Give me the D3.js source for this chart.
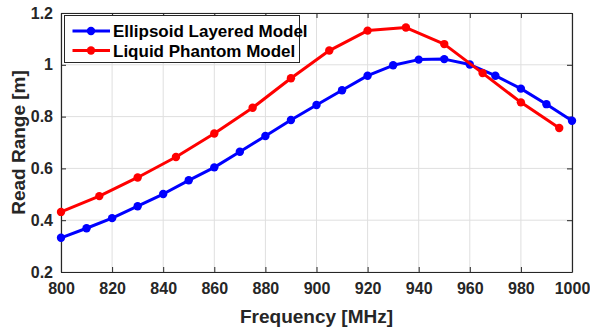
<!DOCTYPE html>
<html><head><meta charset="utf-8">
<script src="https://cdn.jsdelivr.net/npm/d3@7"></script>
<style>body{margin:0;background:#fff}svg{display:block}text{font-family:Arial,"Liberation Sans",sans-serif}</style>
</head><body><svg id="c" width="590" height="327"></svg>
<script>
const blueFreq = [800,810,820,830,840,850,860,870,880,890,900,910,920,930,940,950,960,970,980,990,1000];
const blueVals = [0.332,0.369,0.408,0.454,0.501,0.554,0.604,0.664,0.725,0.787,0.845,0.902,0.958,0.998,1.02,1.022,1.001,0.958,0.908,0.848,0.784];
const redFreq = [800,815,830,845,860,875,890,905,920,935,950,965,980,995];
const redVals = [0.432,0.493,0.565,0.644,0.735,0.834,0.948,1.055,1.132,1.144,1.08,0.968,0.855,0.756];
const xTicks = [800,820,840,860,880,900,920,940,960,980,1000];
const yTicks = [0.2,0.4,0.6,0.8,1,1.2];
const seriesNames = ["Ellipsoid Layered Model","Liquid Phantom Model"];
const seriesColors = ["#0000ff","#ff0000"];

const svg = d3.select("#c");
const L=61,R=572,T=13,B=272;
const x = d3.scaleLinear().domain([800,1000]).range([L,R]);
const y = d3.scaleLinear().domain([0.2,1.2]).range([B,T]);
const axc="#262626";

// grid
const g = svg.append("g");
g.selectAll(".gx").data(xTicks).enter().append("line")
 .attr("x1",d=>x(d)).attr("x2",d=>x(d)).attr("y1",T).attr("y2",B)
 .attr("stroke","#dfdfdf").attr("stroke-width",1);
g.selectAll(".gy").data(yTicks).enter().append("line")
 .attr("y1",d=>y(d)).attr("y2",d=>y(d)).attr("x1",L).attr("x2",R)
 .attr("stroke","#dfdfdf").attr("stroke-width",1);

// axes
const fmtY = d=> d===1?"1":d3.format(".1f")(d);
const xa = svg.append("g").attr("transform",`translate(0,${B})`)
 .call(d3.axisBottom(x).tickValues(xTicks).tickSizeInner(-5).tickSizeOuter(0).tickPadding(11).tickFormat(d3.format("d")));
const ya = svg.append("g").attr("transform",`translate(${L},0)`)
 .call(d3.axisLeft(y).tickValues(yTicks).tickSizeInner(-5).tickSizeOuter(0).tickPadding(8).tickFormat(fmtY));
const xt = svg.append("g").attr("transform",`translate(0,${T})`)
 .call(d3.axisTop(x).tickValues(xTicks).tickSizeInner(-5).tickSizeOuter(0).tickFormat(""));
const yr = svg.append("g").attr("transform",`translate(${R},0)`)
 .call(d3.axisRight(y).tickValues(yTicks).tickSizeInner(-5).tickSizeOuter(0).tickFormat(""));
[xa,ya,xt,yr].forEach(a=>{
  a.selectAll("path").attr("stroke",axc).attr("stroke-width",1.2);
  a.selectAll("line").attr("stroke",axc);
  a.selectAll("text").attr("fill",axc).style("font-size","16px").style("font-weight","bold");
});

// lines
const series=[{f:blueFreq,v:blueVals},{f:redFreq,v:redVals}];
series.forEach((s,i)=>{
  const pts=s.f.map((f,j)=>[f,s.v[j]]);
  svg.append("path").datum(pts)
   .attr("d",d3.line().x(d=>x(d[0])).y(d=>y(d[1])))
   .attr("fill","none").attr("stroke",seriesColors[i]).attr("stroke-width",3).attr("stroke-linejoin","round");
  svg.append("g").selectAll("circle").data(pts).enter().append("circle")
   .attr("cx",d=>x(d[0])).attr("cy",d=>y(d[1])).attr("r",4.2).attr("fill",seriesColors[i]);
});

// axis labels
svg.append("text").attr("x",(L+R)/2).attr("y",323).attr("text-anchor","middle")
 .attr("fill",axc).style("font-size","19px").style("font-weight","bold").text("Frequency [MHz]");
svg.append("text").attr("transform",`translate(25,${(T+B)/2}) rotate(-90)`).attr("text-anchor","middle")
 .attr("fill",axc).style("font-size","19px").style("font-weight","bold").text("Read Range [m]");

// legend
const lg=svg.append("g");
lg.append("rect").attr("x",64.5).attr("y",15.5).attr("width",235).attr("height",47)
 .attr("fill","#fff").attr("stroke","#262626").attr("stroke-width",1);
seriesNames.forEach((n,i)=>{
  const yy=[31,50.5][i];
  lg.append("line").attr("x1",72.5).attr("x2",110).attr("y1",yy).attr("y2",yy)
   .attr("stroke",seriesColors[i]).attr("stroke-width",3);
  lg.append("circle").attr("cx",91).attr("cy",yy).attr("r",4.2).attr("fill",seriesColors[i]);
  lg.append("text").attr("x",113).attr("y",yy+6).attr("fill","#000")
   .style("font-size","17px").style("font-weight","bold").text(n);
});
</script></body></html>
